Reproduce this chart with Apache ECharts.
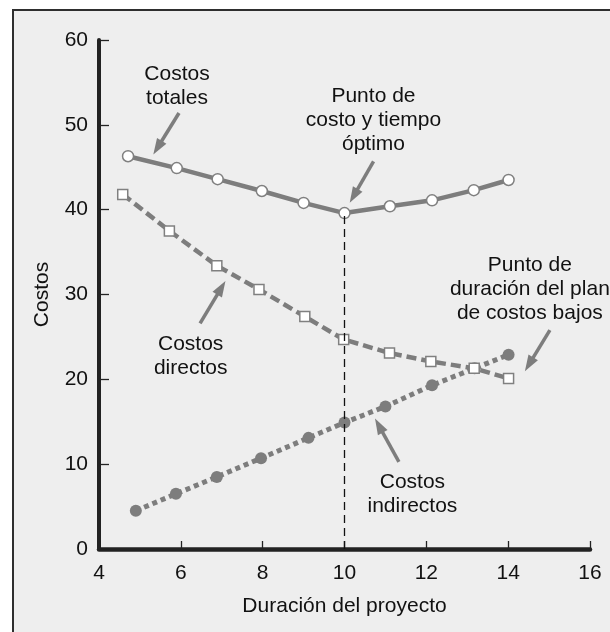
<!DOCTYPE html>
<html>
<head>
<meta charset="utf-8">
<script src="https://cdn.jsdelivr.net/npm/echarts@6/dist/echarts.min.js"></script>
<style>
  html, body { margin: 0; padding: 0; background: #fff; }
  #chart { width: 610px; height: 632px; }
</style>
</head>
<body>
<div id="chart"></div>
<script>
// costos totales
const durTotal = [4.71, 5.9, 6.9, 7.98, 9.0, 10.0, 11.11, 12.14, 13.16, 14.01];
const costTotal = [46.3, 44.9, 43.6, 42.2, 40.8, 39.6, 40.4, 41.1, 42.3, 43.5];
// costos directos
const durDirect = [4.58, 5.72, 6.88, 7.91, 9.03, 9.98, 11.1, 12.11, 13.17, 14.01];
const costDirect = [41.8, 37.5, 33.4, 30.6, 27.4, 24.7, 23.1, 22.1, 21.3, 20.1];
// costos indirectos
const durIndirect = [4.9, 5.88, 6.88, 7.96, 9.12, 10.0, 11.0, 12.14, 13.18, 14.01];
const costIndirect = [4.5, 6.5, 8.5, 10.7, 13.1, 14.9, 16.8, 19.3, 21.3, 22.9];

const optimoX = 10;
const optimoY = 39.6;

// notas y flechas (en coordenadas de datos)
const noteText = ["Costos\ntotales", "Punto de\ncosto y tiempo\nóptimo", "Costos\ndirectos", "Costos\nindirectos", "Punto de\nduración del plan\nde costos bajos"];
const noteX = [5.906, 10.708, 6.24, 11.66, 14.53];
const noteY = [54.58, 50.49, 22.78, 6.44, 30.65];
const arrowFromX = [5.955, 10.71, 6.47, 11.33, 15.02];
const arrowFromY = [51.4, 45.7, 26.6, 10.27, 25.8];
// centro de la punta de flecha
const arrowToX = [5.43, 10.225, 6.99, 10.84, 14.51];
const arrowToY = [47.3, 41.62, 30.79, 14.55, 21.77];

const FONT = "'Liberation Sans', Arial, sans-serif";
const GRAY = "#7d7d7d";

const pairs = (xs, ys) => xs.map((x, i) => [x, ys[i]]);

const arrows = arrowFromX.map((x, i) => [
  { coord: [x, arrowFromY[i]], symbol: "none" },
  { coord: [arrowToX[i], arrowToY[i]], symbol: "triangle", symbolSize: [11, 16] },
]);

let chart = echarts.init(document.getElementById("chart"));
const options = {
  animation: false,
  textStyle: { fontFamily: FONT },
  grid: { left: 99, top: 40, right: 20, bottom: 83 },
  graphic: [
    {
      type: "rect",
      z: -100,
      silent: true,
      shape: { x: 13, y: 10, width: 700, height: 700 },
      style: { fill: "#eeeeee", stroke: "#2e2e2e", lineWidth: 2 },
    },
  ],
  xAxis: {
    type: "value",
    min: 4,
    max: 16,
    interval: 2,
    name: "Duración del proyecto",
    nameLocation: "middle",
    nameGap: 47,
    nameTextStyle: { fontSize: 21, color: "#111", fontFamily: FONT },
    axisLine: { show: true, onZero: false, lineStyle: { color: "#222", width: 4.5 } },
    axisTick: { show: true, inside: true, length: 8, lineStyle: { color: "#222", width: 1.3 } },
    axisLabel: { fontSize: 21, color: "#111", margin: 14, fontFamily: FONT },
    splitLine: { show: false },
  },
  yAxis: {
    type: "value",
    min: 0,
    max: 60,
    interval: 10,
    name: "Costos",
    nameLocation: "middle",
    nameRotate: 90,
    nameGap: 46,
    nameTextStyle: { fontSize: 21, color: "#111", fontFamily: FONT },
    axisLine: { show: true, onZero: false, lineStyle: { color: "#222", width: 4 } },
    axisTick: { show: true, inside: true, length: 10, lineStyle: { color: "#222", width: 1.3 } },
    axisLabel: { fontSize: 21, color: "#111", margin: 11, fontFamily: FONT },
    splitLine: { show: false },
  },
  series: [
    {
      name: "Costos indirectos",
      type: "line",
      data: pairs(durIndirect, costIndirect),
      symbol: "circle",
      symbolSize: 12,
      itemStyle: { color: GRAY },
      lineStyle: { color: GRAY, width: 5, type: [5, 4] },
      markLine: {
        silent: true,
        animation: false,
        label: { show: false },
        data: [
          [
            { coord: [optimoX, 0], symbol: "none", lineStyle: { color: "#111", width: 1.3, type: [8, 5] } },
            { coord: [optimoX, optimoY], symbol: "none" },
          ],
        ],
      },
    },
    {
      name: "Costos directos",
      type: "line",
      data: pairs(durDirect, costDirect),
      symbol: "rect",
      symbolSize: 10,
      itemStyle: { color: "#fff", borderColor: "#808080", borderWidth: 1.5 },
      lineStyle: { color: GRAY, width: 4.5, type: [10, 5] },
    },
    {
      name: "Costos totales",
      type: "line",
      data: pairs(durTotal, costTotal),
      symbol: "circle",
      symbolSize: 11,
      itemStyle: { color: "#fff", borderColor: "#808080", borderWidth: 1.5 },
      lineStyle: { color: GRAY, width: 4.5 },
      markLine: {
        silent: true,
        animation: false,
        label: { show: false },
        lineStyle: { color: GRAY, width: 3.5, type: "solid" },
        data: arrows,
      },
    },
  ],
};
chart.setOption(options);

// notas de texto colocadas con la escala del grid
const notes = noteText.map((t, i) => {
  const p = chart.convertToPixel({ gridIndex: 0 }, [noteX[i], noteY[i]]);
  return {
    type: "text",
    z: 50,
    silent: true,
    style: {
      text: t,
      x: p[0],
      y: p[1],
      align: "center",
      verticalAlign: "middle",
      font: "21px " + FONT,
      lineHeight: 24,
      fill: "#111",
    },
  };
});
chart.setOption({ graphic: options.graphic.concat(notes) });
</script>
</body>
</html>
